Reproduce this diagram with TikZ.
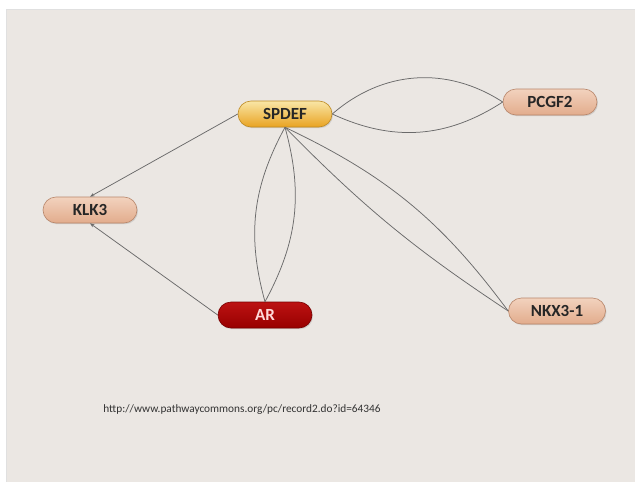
\documentclass[tikz,border=0pt]{standalone}
\usepackage{fontspec}
\setmainfont{Carlito}
\usetikzlibrary{shapes.misc,arrows.meta,shadows}

\definecolor{panel}{HTML}{EBE7E3}
\definecolor{linkgray}{HTML}{6A6A6A}
\definecolor{peachtop}{HTML}{F2D2BE}
\definecolor{peachbot}{HTML}{E2AC8C}
\definecolor{peachline}{HTML}{B8866A}
\definecolor{goldtop}{HTML}{F9E6A6}
\definecolor{goldbot}{HTML}{E9A322}
\definecolor{goldline}{HTML}{BE8A22}
\definecolor{redtop}{HTML}{BC1212}
\definecolor{redbot}{HTML}{980000}
\definecolor{redline}{HTML}{780000}

\begin{document}
\begin{tikzpicture}[x=1pt,y=-1pt,
    gene/.style={rounded rectangle, minimum width=94pt, minimum height=26pt, inner sep=0pt,
        font=\fontsize{17}{17}\selectfont\bfseries, draw=peachline, line width=0.6pt,
        top color=peachtop, bottom color=peachbot, text=black!85,
        drop shadow={shadow xshift=1pt, shadow yshift=-1.2pt, opacity=0.25}},
    hub/.style={gene, draw=goldline, top color=goldtop, bottom color=goldbot},
    tf/.style={gene, draw=redline, top color=redtop, bottom color=redbot, text=red!15},
    link/.style={linkgray, line width=0.75pt},
    regulates/.style={link, -{Stealth[length=4.5pt,width=3.5pt]}}]
    \useasboundingbox (0,0) rectangle (635,482);
    \fill[panel] (6,9) rectangle (635,482);
    \draw[black!12, line width=0.4pt] (6,482) -- (6,9) -- (635,9);

    % Genes
    \node[hub] (spdef) at (285,114) {SPDEF};
    \node[gene] (pcgf2) at (550,102) {PCGF2};
    \node[gene] (klk3) at (90,210) {KLK3};
    \node[tf] (ar) at (265,315) {AR};
    \node[gene, minimum width=97pt] (nkx) at (557,311) {NKX3-1};

    % Regulation into KLK3
    \draw[regulates] (spdef.west) -- (klk3.north);
    \draw[regulates] (ar.west) -- (klk3.south);

    % Paired interactions
    \draw[link] (spdef.east) to[bend left=37] (pcgf2.west);
    \draw[link] (spdef.east) to[bend right=29] (pcgf2.west);
    \draw[link] (spdef.south) to[bend left=22] (ar.north);
    \draw[link] (spdef.south) to[bend right=22] (ar.north);
    \draw[link] (spdef.south) to[bend left=14] (nkx.west);
    \draw[link] (spdef.south) to[bend right=6] (nkx.west);

    % Source
    \node[font=\fontsize{11.3}{13}\selectfont, text=black!80] (source) at (242,410)
        {http://www.pathwaycommons.org/pc/record2.do?id=64346};
\end{tikzpicture}
\end{document}
